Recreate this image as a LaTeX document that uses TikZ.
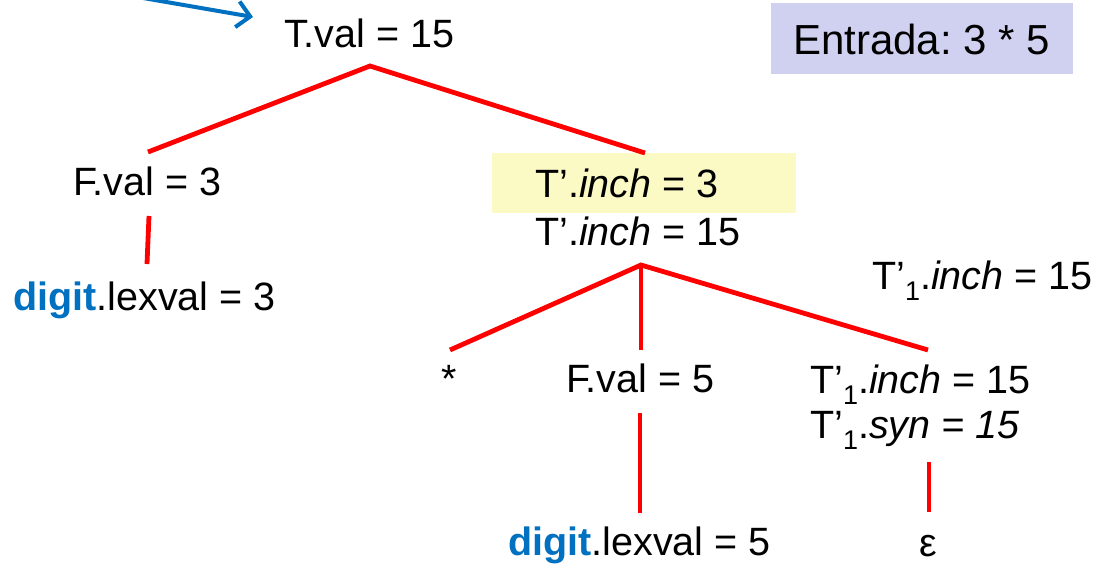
\documentclass[tikz,border=0pt]{standalone}
\usepackage{fontspec}
\setmainfont{Liberation Sans}
\usetikzlibrary{arrows.meta}
\frenchspacing
\definecolor{edgered}{RGB}{255,0,0}
\definecolor{digblue}{RGB}{0,112,192}
\definecolor{boxlav}{RGB}{208,208,240}
\definecolor{boxyel}{RGB}{252,250,196}
\newcommand{\dig}{\textcolor{digblue}{\textbf{digit}}}
\newcommand{\sub}[1]{\raisebox{-0.3em}{\fontsize{27}{27}\selectfont #1}}
\begin{document}
\begin{tikzpicture}[x=1pt,y=-1pt,
  lbl/.style={anchor=base west,inner sep=0pt,font=\fontsize{39.5}{44}\selectfont\frenchspacing},
  edge/.style={draw=edgered,line width=4.8pt},
  ptr/.style={draw=digblue,line width=4pt,-{Straight Barb[length=13pt,width=26pt,line width=4pt]}}]
\path[use as bounding box] (0,0) rectangle (1099,563);
\clip (0,0) rectangle (1099,563);
% backgrounds
\fill[boxlav] (771,3) rectangle (1073,74);
\fill[boxyel] (492,153) rectangle (796,213);
% texts
\node[lbl,font=\fontsize{42}{48}\selectfont\frenchspacing] (entrada) at (793,54) {Entrada: 3 * 5};
\node[lbl] (T) at (284,47) {T.val = 15};
\node[lbl] (F3) at (73,195) {F.val = 3};
\node[lbl] (d3) at (13,310) {\dig.lexval = 3};
\node[lbl] (Tp3) at (535,197) {T’.\textit{inch} = 3};
\node[lbl] (Tp15) at (535,245) {T’.\textit{inch} = 15};
\node[lbl] (Tpone) at (872,289) {T’\sub{1}.\textit{inch} = 15};
\node[lbl] (star) at (441,392) {*};
\node[lbl] (F5) at (566,392) {F.val = 5};
\node[lbl] (Tq) at (810,393) {T’\sub{1}.\textit{inch} = 15};
\node[lbl] (Ts) at (810,438) {T’\sub{1}.\textit{syn = 15}};
\node[lbl] (d5) at (508,555) {\dig.lexval = 5};
\node[lbl,anchor=base] (eps) at (928,556) {ε};
% connector end points
\coordinate (rootA) at (370,66);
\coordinate (lEnd) at (148,152);
\coordinate (rEnd) at (645,153);
\coordinate (f3T) at (149,216);
\coordinate (f3B) at (147,264);
\coordinate (tpA) at (641,265);
\coordinate (starE) at (450,350);
\coordinate (f5E) at (641,350);
\coordinate (tqE) at (928,350);
\coordinate (f5T) at (640,413);
\coordinate (f5B) at (640,513);
\coordinate (epT) at (929,462);
\coordinate (epB) at (929,512);
\coordinate (arrS) at (120,-6);
\coordinate (arrE) at (253,17);
% edges
\draw[edge] (lEnd) -- (rootA) -- (rEnd);
\draw[edge] (f3T) -- (f3B);
\draw[edge] (starE) -- (tpA) -- (tqE);
\draw[edge] (tpA) -- (f5E);
\draw[edge] (f5T) -- (f5B);
\draw[edge] (epT) -- (epB);
\draw[ptr] (arrS) -- (arrE);
\end{tikzpicture}
\end{document}
